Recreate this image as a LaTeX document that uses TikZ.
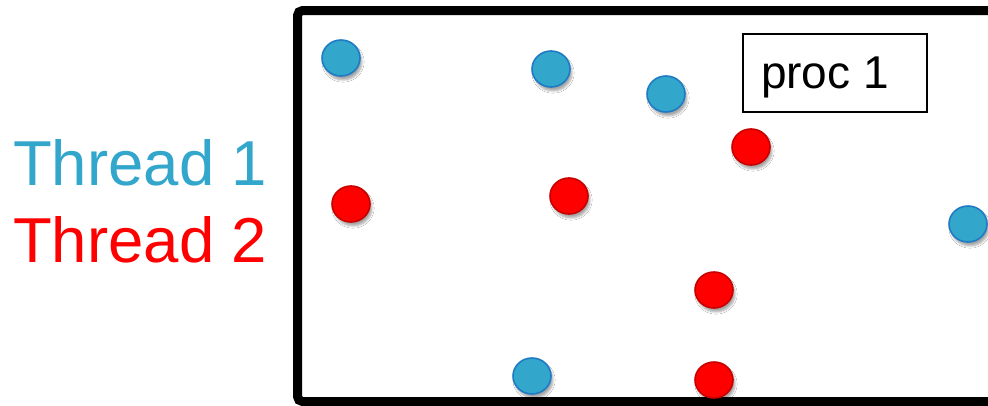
\documentclass[tikz,border=0pt]{standalone}
\usepackage{fontspec}
\setmainfont{Liberation Sans}
\usetikzlibrary{shadows.blur,shapes.geometric}
\definecolor{tblue}{HTML}{33A6CC}
\definecolor{bfill}{HTML}{33A6CC}
\definecolor{bedge}{HTML}{1F7CC4}
\definecolor{rfill}{HTML}{FF0000}
\definecolor{redge}{HTML}{C80000}
\tikzset{
  dot/.style={ellipse, minimum width=38pt, minimum height=36pt, inner sep=0pt, line width=1.6pt,
    blur shadow={shadow xshift=2pt, shadow yshift=-4pt, shadow blur steps=6, shadow opacity=35}},
  bdot/.style={dot, fill=bfill, draw=bedge},
  rdot/.style={dot, fill=rfill, draw=redge},
  lbl/.style={anchor=base west, font=\fontsize{63.5}{63.5}\selectfont, inner sep=0pt},
  procbox/.style={draw=black, line width=1.8pt, fill=white, minimum width=184pt, minimum height=78pt,
    inner sep=0pt},
  proctext/.style={font=\fontsize{46}{46}\selectfont, inner sep=0pt, anchor=base}
}
\begin{document}
\begin{tikzpicture}[x=1pt,y=-1pt]
\clip (0,0) rectangle (988,405);
\fill[white] (0,0) rectangle (988,405);
\draw[line width=9pt, rounded corners=5pt] (297.5,10.5) rectangle (1010,401.5);
\node[lbl, text=tblue] (t1) at (13,185) {Thread 1};
\node[lbl, text=rfill] (t2) at (13,262) {Thread 2};
\node[procbox] (proc) at (835,73) {};
\node[proctext] (proclbl) at (825,88) {proc 1};
\node[bdot] (b1) at (341,58) {};
\node[bdot] (b2) at (551,69) {};
\node[bdot] (b3) at (666,94) {};
\node[bdot] (b4) at (968,224) {};
\node[bdot] (b5) at (532,376) {};
\node[rdot] (r1) at (751,147) {};
\node[rdot] (r2) at (351,204) {};
\node[rdot] (r3) at (569,196) {};
\node[rdot] (r4) at (714,290) {};
\node[rdot] (r5) at (714,380) {};
\end{tikzpicture}
\end{document}
